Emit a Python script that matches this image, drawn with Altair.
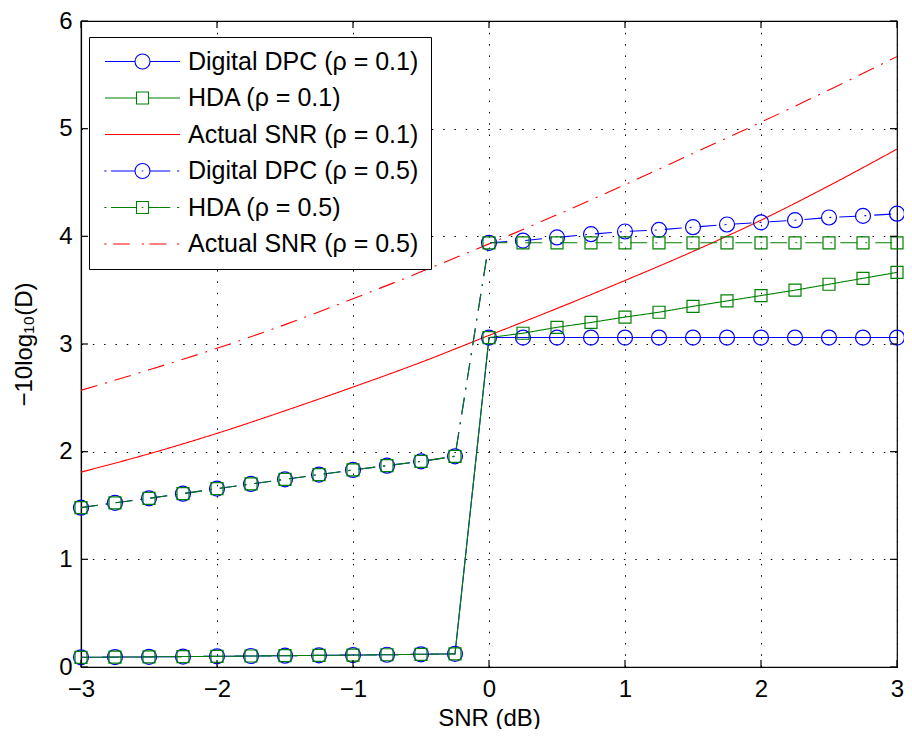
import altair as alt
import pandas as pd

# ---------------- data ----------------
x_vals = [-3.0, -2.75, -2.5, -2.25, -2.0, -1.75, -1.5, -1.25, -1.0, -0.75, -0.5, -0.25,
          0.0, 0.25, 0.5, 0.75, 1.0, 1.25, 1.5, 1.75, 2.0, 2.25, 2.5, 2.75, 3.0]

dpc_01 = [0.090, 0.092, 0.094, 0.097, 0.099, 0.102, 0.105, 0.108, 0.111, 0.114, 0.118, 0.122,
          3.06, 3.06, 3.06, 3.06, 3.06, 3.06, 3.06, 3.06, 3.06, 3.06, 3.06, 3.06, 3.06]
hda_01 = [0.090, 0.092, 0.094, 0.097, 0.099, 0.102, 0.105, 0.108, 0.111, 0.114, 0.118, 0.122,
          3.06, 3.10, 3.155, 3.20, 3.25, 3.295, 3.35, 3.40, 3.45, 3.50, 3.555, 3.61, 3.665]
dpc_05 = [1.48, 1.525, 1.567, 1.61, 1.657, 1.70, 1.743, 1.787, 1.83, 1.87, 1.91, 1.957,
          3.94, 3.96, 3.99, 4.02, 4.045, 4.06, 4.085, 4.11, 4.13, 4.15, 4.175, 4.19, 4.21]
hda_05 = [1.48, 1.525, 1.567, 1.61, 1.657, 1.70, 1.743, 1.787, 1.83, 1.87, 1.91, 1.957,
          3.94, 3.94, 3.94, 3.94, 3.94, 3.94, 3.94, 3.94, 3.94, 3.94, 3.94, 3.94, 3.94]

x_snr = [-3.0, -2.5, -2.0, -1.5, -1.0, -0.5, 0.0, 0.5, 1.0, 1.5, 2.0, 2.5, 3.0]
snr_01 = [1.81, 1.98, 2.17, 2.38, 2.60, 2.83, 3.08, 3.33, 3.59, 3.86, 4.15, 4.47, 4.81]
snr_05 = [2.57, 2.76, 2.96, 3.18, 3.42, 3.67, 3.93, 4.20, 4.48, 4.77, 5.06, 5.36, 5.67]

series_names = ["Digital DPC (ρ = 0.1)", "HDA (ρ = 0.1)", "Actual SNR (ρ = 0.1)",
                "Digital DPC (ρ = 0.5)", "HDA (ρ = 0.5)", "Actual SNR (ρ = 0.5)"]
series_colors = ["#0000ff", "#008000", "#ff0000", "#0000ff", "#008000", "#ff0000"]
dash_dot = [17, 8, 2, 8]
series_dashes = [[1, 0], [1, 0], [1, 0], dash_dot, dash_dot, dash_dot]

x_ticks = [-3, -2, -1, 0, 1, 2, 3]
y_ticks = [0, 1, 2, 3, 4, 5, 6]

# legend glyphs (line sample + marker) as custom symbol paths
legend_paths = [
    "M-5,0H-1M1,0H5M1,0A1,1,0,1,1,-1,0A1,1,0,1,1,1,0",
    "M-5,0H-0.8M0.8,0H5M-0.8,-0.8H0.8V0.8H-0.8Z",
    "M-5,0H5",
    "M-5.1,0H-4.8M-4.2,0H-1M1,0H3.7M4.6,0H4.9M-0.1,0H0.1M1,0A1,1,0,1,1,-1,0A1,1,0,1,1,1,0",
    "M-5.1,0H-4.8M-4.2,0H-0.8M0.8,0H3.7M4.6,0H4.9M-0.1,0H0.1M-0.8,-0.8H0.8V0.8H-0.8Z",
    "M-5.1,0H-4.8M-3.9,0H-1.7M-0.1,0H0.2M0.9,0H3.2M4.6,0H4.9",
]

# ---------------- tables ----------------
marker_rows = []
for name, vals in [(series_names[0], dpc_01), (series_names[1], hda_01),
                   (series_names[3], dpc_05), (series_names[4], hda_05)]:
    for xv, yv in zip(x_vals, vals):
        marker_rows.append({"x": xv, "y": yv, "series": name})
df_m = pd.DataFrame(marker_rows)

snr_rows = []
for name, vals in [(series_names[2], snr_01), (series_names[5], snr_05)]:
    for xv, yv in zip(x_snr, vals):
        snr_rows.append({"x": xv, "y": yv, "series": name})
df_s = pd.DataFrame(snr_rows)

FONT = "Liberation Sans"
FS = 24
W, H = 816, 646

x_scale = alt.Scale(domain=[-3, 3], nice=False, zero=False)
y_scale = alt.Scale(domain=[0, 6], nice=False, zero=False)

x_enc = alt.X("x:Q", scale=x_scale,
              axis=alt.Axis(values=x_ticks, format="d", title="SNR (dB)", grid=True, ticks=False,
                            tickSize=0, labelFlush=False, labelPadding=10, titleX=W / 2, titleY=58,
                            titleBaseline="alphabetic", titleAnchor="middle"))
y_enc = alt.Y("y:Q", scale=y_scale,
              axis=alt.Axis(values=y_ticks, format="d", title="−10log₁₀(D)", grid=True, ticks=False,
                            tickSize=0, labelFlush=False, labelPadding=9, titleX=-50, titleY=H / 2,
                            titleAngle=270, titleBaseline="alphabetic", titleAlign="center"))

color_scale = alt.Scale(domain=series_names, range=series_colors)
dash_scale = alt.Scale(domain=series_names, range=series_dashes)

color_nolegend = alt.Color("series:N", scale=color_scale, legend=None)
dash_nolegend = alt.StrokeDash("series:N", scale=dash_scale, legend=None)

lines_m = alt.Chart(df_m).mark_line(strokeWidth=1.1).encode(
    x=x_enc, y=y_enc, color=color_nolegend, strokeDash=dash_nolegend, detail="series:N")
lines_s = alt.Chart(df_s).mark_line(strokeWidth=1.1, interpolate="monotone").encode(
    x=x_enc, y=y_enc, color=color_nolegend, strokeDash=dash_nolegend, detail="series:N")

circles = alt.Chart(df_m).transform_filter(
    alt.FieldOneOfPredicate(field="series", oneOf=[series_names[0], series_names[3]])
).mark_point(shape="circle", size=225, filled=False, strokeWidth=1.2, opacity=1).encode(
    x=x_enc, y=y_enc, color=color_nolegend)

squares = alt.Chart(df_m).transform_filter(
    alt.FieldOneOfPredicate(field="series", oneOf=[series_names[1], series_names[4]])
).mark_point(shape="square", size=144, filled=False, strokeWidth=1.2, opacity=1).encode(
    x=x_enc, y=y_enc, color=color_nolegend)

leg = alt.Legend(title=None, orient="none", legendX=8, legendY=16, fillColor="white",
                 strokeColor="black", padding=12, labelFont=FONT, labelFontSize=25,
                 labelColor="black", symbolSize=225, symbolStrokeWidth=1.1,
                 symbolOffset=29, labelOffset=33, rowPadding=10.5, labelLimit=400)

legend_layer = alt.Chart(df_m).transform_filter("datum.x > 100").mark_point(
    filled=False, size=225, opacity=1, strokeWidth=1.1).encode(
    x=x_enc, y=y_enc,
    color=alt.Color("series:N", scale=color_scale, legend=leg),
    shape=alt.Shape("series:N", scale=alt.Scale(domain=series_names, range=legend_paths), legend=leg))

# inward tick marks (MATLAB style)
tx = pd.DataFrame({"x": x_ticks})
ty = pd.DataFrame({"y": y_ticks})
tick_b = alt.Chart(tx).mark_rule(color="black", strokeWidth=1.2).encode(
    x=alt.X("x:Q", scale=x_scale), y=alt.value(H), y2=alt.value(H - 7))
tick_t = alt.Chart(tx).mark_rule(color="black", strokeWidth=1.2).encode(
    x=alt.X("x:Q", scale=x_scale), y=alt.value(0), y2=alt.value(7))
tick_l = alt.Chart(ty).mark_rule(color="black", strokeWidth=1.2).encode(
    y=alt.Y("y:Q", scale=y_scale), x=alt.value(0), x2=alt.value(7))
tick_r = alt.Chart(ty).mark_rule(color="black", strokeWidth=1.2).encode(
    y=alt.Y("y:Q", scale=y_scale), x=alt.value(W), x2=alt.value(W - 7))

chart = alt.layer(lines_s, lines_m, circles, squares, tick_b, tick_t, tick_l, tick_r, legend_layer).resolve_legend(
    color="independent", shape="independent", strokeDash="independent"
).properties(
    width=W, height=H,
    autosize=alt.AutoSizeParams(type="none"),
    padding={"left": 73, "top": 13, "right": 7, "bottom": 62},
    background="white",
).configure_view(stroke="black", strokeWidth=1.2).configure_axis(
    domainColor="black", domainWidth=1.2, gridColor="black", gridOpacity=1, gridWidth=1,
    gridDash=[1.5, 9.8], labelFont=FONT, labelFontSize=FS, labelColor="black",
    titleFont=FONT, titleFontSize=FS, titleColor="black", titleFontWeight="normal",
)

chart.save("out.html", embed_options={"renderer": "svg", "actions": False})
